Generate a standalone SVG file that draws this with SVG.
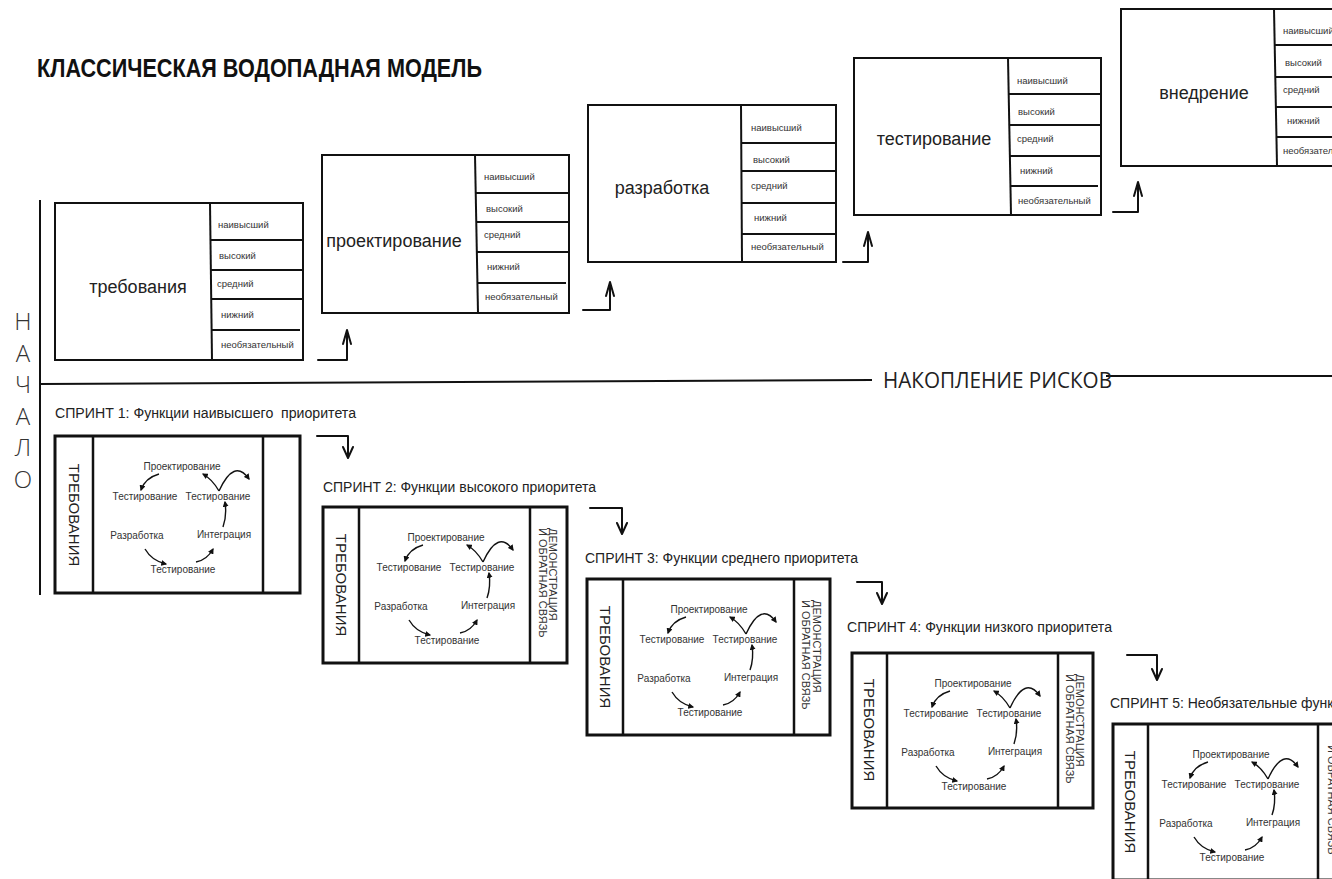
<svg xmlns="http://www.w3.org/2000/svg" xmlns:xlink="http://www.w3.org/1999/xlink" width="1332" height="879" viewBox="0 0 1332 879">
<style>
.bx{fill:#fff;stroke:#111;stroke-width:2}
.ln{stroke:#111;stroke-width:2;fill:none}
.big{font-family:"Liberation Sans",Arial,sans-serif;font-size:18px;fill:#222;text-anchor:middle}
.pr{font-family:"Liberation Sans",Arial,sans-serif;font-size:9.5px;fill:#333}
.sf{fill:#fff;stroke:#111;stroke-width:3}
.sd{stroke:#111;stroke-width:2.5;fill:none}
.cy{font-family:"Liberation Sans",Arial,sans-serif;font-size:10px;fill:#333;text-anchor:middle}
.ca{stroke:#111;stroke-width:1.4;fill:none;marker-end:url(#ah)}
.arw{stroke:#111;stroke-width:2;fill:none;stroke-linejoin:round;stroke-linecap:round}
.st{font-family:"Liberation Sans",Arial,sans-serif;font-size:14px;fill:#222;white-space:pre}
.req{font-family:"Liberation Sans",Arial,sans-serif;font-size:15px;fill:#222;text-anchor:middle;dominant-baseline:central}
.demo{font-family:"Liberation Sans",Arial,sans-serif;font-size:11px;fill:#333}
.vl{font-family:"Open Sans","Liberation Sans",sans-serif;font-weight:300;font-size:24px;fill:#333;text-anchor:middle}
</style>
<defs>
<marker id="ah" viewBox="0 0 10 10" refX="8" refY="5" markerWidth="6" markerHeight="6" markerUnits="userSpaceOnUse" orient="auto"><path d="M0,0 L10,5 L0,10 z" fill="#111"/></marker>
<g id="cyc">
<text class="cy" x="0" y="34">Проектирование</text>
<text class="cy" x="-37" y="64">Тестирование</text>
<text class="cy" x="36" y="64">Тестирование</text>
<text class="cy" x="-45" y="103">Разработка</text>
<text class="cy" x="42" y="102">Интеграция</text>
<text class="cy" x="1" y="137">Тестирование</text>
<path class="ca" d="M-23,38 Q-37,42 -41,54"/>
<path class="ca" d="M37,55 Q30,43 21,38"/>
<path class="ca" d="M37,55 Q52,22 67,43"/>
<path class="ca" d="M41,91 Q45,80 43,66"/>
<path class="ca" d="M-37,113 Q-30,125 -16,128"/>
<path class="ca" d="M14,126 Q25,124 31,113"/>
</g>
</defs>
<rect width="1332" height="879" fill="#fff"/>

<text x="37" y="77" font-family="Liberation Sans, Arial, sans-serif" font-weight="bold" font-size="26" fill="#111" textLength="445" lengthAdjust="spacingAndGlyphs">КЛАССИЧЕСКАЯ ВОДОПАДНАЯ МОДЕЛЬ</text>

<g id="start-axis">
<line class="ln" x1="40" y1="200" x2="40" y2="595"/>
<text class="vl" x="23" y="330">Н</text>
<text class="vl" x="23" y="362">А</text>
<text class="vl" x="23" y="393">Ч</text>
<text class="vl" x="23" y="425">А</text>
<text class="vl" x="23" y="456">Л</text>
<text class="vl" x="23" y="488">О</text>
</g>

<g id="risk-axis">
<polyline class="ln" points="40,384 872,380"/>
<line class="ln" x1="1106" y1="376" x2="1332" y2="376"/>
<text x="883" y="388" font-family="Open Sans, Liberation Sans, sans-serif" font-size="21" fill="#222" textLength="229" lengthAdjust="spacingAndGlyphs">НАКОПЛЕНИЕ РИСКОВ</text>
</g>

<g id="wf1">
<rect class="bx" x="55" y="203" width="248" height="157"/>
<line class="ln" x1="210" y1="203" x2="212" y2="360"/>
<line class="ln" x1="210" y1="240" x2="303" y2="240"/>
<line class="ln" x1="211" y1="270" x2="303" y2="270"/>
<line class="ln" x1="211" y1="299" x2="303" y2="299"/>
<line class="ln" x1="212" y1="330" x2="300" y2="330"/>
<text class="big" x="138" y="293">требования</text>
<text class="pr" x="218" y="228">наивысший</text>
<text class="pr" x="219" y="259">высокий</text>
<text class="pr" x="217" y="287">средний</text>
<text class="pr" x="221" y="318">нижний</text>
<text class="pr" x="221" y="348">необязательный</text>
</g>

<g id="wf2">
<rect class="bx" x="322" y="155" width="247" height="158"/>
<line class="ln" x1="475" y1="155" x2="478" y2="313"/>
<line class="ln" x1="475" y1="193" x2="569" y2="193"/>
<line class="ln" x1="476" y1="222" x2="569" y2="222"/>
<line class="ln" x1="476" y1="252" x2="569" y2="252"/>
<line class="ln" x1="477" y1="283" x2="566" y2="283"/>
<text class="big" x="394" y="247">проектирование</text>
<text class="pr" x="484" y="180">наивысший</text>
<text class="pr" x="486" y="212">высокий</text>
<text class="pr" x="484" y="238">средний</text>
<text class="pr" x="487" y="270">нижний</text>
<text class="pr" x="485" y="300">необязательный</text>
</g>

<g id="wf3">
<rect class="bx" x="588" y="105" width="248" height="157"/>
<line class="ln" x1="741" y1="105" x2="742" y2="262"/>
<line class="ln" x1="741" y1="143" x2="836" y2="143"/>
<line class="ln" x1="741" y1="171" x2="836" y2="171"/>
<line class="ln" x1="742" y1="203" x2="836" y2="203"/>
<line class="ln" x1="742" y1="234" x2="836" y2="234"/>
<text class="big" x="662" y="194">разработка</text>
<text class="pr" x="751" y="131">наивысший</text>
<text class="pr" x="753" y="163">высокий</text>
<text class="pr" x="751" y="189">средний</text>
<text class="pr" x="754" y="221">нижний</text>
<text class="pr" x="751" y="250">необязательный</text>
</g>

<g id="wf4">
<rect class="bx" x="854" y="58" width="247" height="157"/>
<line class="ln" x1="1008" y1="58" x2="1011" y2="215"/>
<line class="ln" x1="1008" y1="94" x2="1101" y2="94"/>
<line class="ln" x1="1009" y1="125" x2="1101" y2="125"/>
<line class="ln" x1="1009" y1="156" x2="1101" y2="156"/>
<line class="ln" x1="1010" y1="186" x2="1098" y2="186"/>
<text class="big" x="934" y="145">тестирование</text>
<text class="pr" x="1017" y="84">наивысший</text>
<text class="pr" x="1018" y="115">высокий</text>
<text class="pr" x="1017" y="142">средний</text>
<text class="pr" x="1020" y="174">нижний</text>
<text class="pr" x="1018" y="204">необязательный</text>
</g>

<g id="wf5">
<rect class="bx" x="1121" y="9" width="240" height="157"/>
<line class="ln" x1="1274" y1="9" x2="1277" y2="166"/>
<line class="ln" x1="1274" y1="45" x2="1340" y2="45"/>
<line class="ln" x1="1275" y1="77" x2="1340" y2="77"/>
<line class="ln" x1="1275" y1="107" x2="1340" y2="107"/>
<line class="ln" x1="1276" y1="137" x2="1340" y2="137"/>
<text class="big" x="1204" y="99">внедрение</text>
<text class="pr" x="1283" y="34">наивысший</text>
<text class="pr" x="1285" y="66">высокий</text>
<text class="pr" x="1283" y="93">средний</text>
<text class="pr" x="1287" y="124">нижний</text>
<text class="pr" x="1283" y="154">необязательный</text>
</g>

<g id="sprint1">
<text class="st" x="55" y="418" textLength="301" lengthAdjust="spacingAndGlyphs">СПРИНТ 1: Функции наивысшего  приоритета</text>
<rect class="sf" x="55" y="436" width="245" height="157"/>
<line class="sd" x1="93" y1="436" x2="93" y2="594"/>
<line class="sd" x1="263" y1="436" x2="263" y2="593"/>
<text class="req" transform="translate(74,515) rotate(90)">ТРЕБОВАНИЯ</text>
<use xlink:href="#cyc" href="#cyc" transform="translate(182,436)"/>
</g>

<g id="sprint2">
<text class="st" x="323" y="492" textLength="273" lengthAdjust="spacingAndGlyphs">СПРИНТ 2: Функции высокого приоритета</text>
<rect class="sf" x="323" y="507" width="244" height="156"/>
<line class="sd" x1="359" y1="507" x2="359" y2="663"/>
<line class="sd" x1="530" y1="507" x2="530" y2="663"/>
<text class="req" transform="translate(341,585) rotate(90)">ТРЕБОВАНИЯ</text>
<g transform="translate(548.5,528) rotate(90)"><text class="demo" x="0" y="-0.5">ДЕМОНСТРАЦИЯ</text><text class="demo" x="0" y="10">И ОБРАТНАЯ СВЯЗЬ</text></g>
<use xlink:href="#cyc" href="#cyc" transform="translate(446,507)"/>
</g>

<g id="sprint3">
<text class="st" x="585" y="563" textLength="273" lengthAdjust="spacingAndGlyphs">СПРИНТ 3: Функции среднего приоритета</text>
<rect class="sf" x="587" y="579" width="243" height="156"/>
<line class="sd" x1="623" y1="579" x2="623" y2="735"/>
<line class="sd" x1="794" y1="579" x2="794" y2="735"/>
<text class="req" transform="translate(605,657) rotate(90)">ТРЕБОВАНИЯ</text>
<g transform="translate(812,600) rotate(90)"><text class="demo" x="0" y="-0.5">ДЕМОНСТРАЦИЯ</text><text class="demo" x="0" y="10">И ОБРАТНАЯ СВЯЗЬ</text></g>
<use xlink:href="#cyc" href="#cyc" transform="translate(709,579)"/>
</g>

<g id="sprint4">
<text class="st" x="847" y="632" textLength="265" lengthAdjust="spacingAndGlyphs">СПРИНТ 4: Функции низкого приоритета</text>
<rect class="sf" x="852" y="653" width="241" height="155"/>
<line class="sd" x1="887" y1="653" x2="887" y2="808"/>
<line class="sd" x1="1058" y1="653" x2="1058" y2="808"/>
<text class="req" transform="translate(869.5,730) rotate(90)">ТРЕБОВАНИЯ</text>
<g transform="translate(1075.5,674) rotate(90)"><text class="demo" x="0" y="-0.5">ДЕМОНСТРАЦИЯ</text><text class="demo" x="0" y="10">И ОБРАТНАЯ СВЯЗЬ</text></g>
<use xlink:href="#cyc" href="#cyc" transform="translate(973,653)"/>
</g>

<g id="sprint5">
<text class="st" x="1110" y="708">СПРИНТ 5: Необязательные функции</text>
<rect class="sf" x="1113" y="724" width="244" height="156"/>
<line class="sd" x1="1148" y1="724" x2="1148" y2="880"/>
<line class="sd" x1="1318" y1="724" x2="1318" y2="880"/>
<text class="req" transform="translate(1130.5,802) rotate(90)">ТРЕБОВАНИЯ</text>
<g transform="translate(1337.5,745) rotate(90)"><text class="demo" x="0" y="-0.5">ДЕМОНСТРАЦИЯ</text><text class="demo" x="0" y="10">И ОБРАТНАЯ СВЯЗЬ</text></g>
<use xlink:href="#cyc" href="#cyc" transform="translate(1231,724)"/>
</g>

<g id="connectors">
<path class="arw" d="M318,360 H347 V331 M343,344 L347,330 L351,344"/>
<path class="arw" d="M583,310 H610 V283 M606,296 L610,282 L614,296"/>
<path class="arw" d="M843,262 H868 V233 M864,246 L868,232 L872,246"/>
<path class="arw" d="M1113,212 H1138 V183 M1134,196 L1138,182 L1142,196"/>
<path class="arw" d="M317,436 H348 V456 M343,447 L348,458 L353,447"/>
<path class="arw" d="M590,508 H622 V532 M617,523 L622,534 L627,523"/>
<path class="arw" d="M857,582 H882 V602 M877,593 L882,604 L887,593"/>
<path class="arw" d="M1127,655 H1157 V678 M1152,669 L1157,680 L1162,669"/>
</g>
</svg>
